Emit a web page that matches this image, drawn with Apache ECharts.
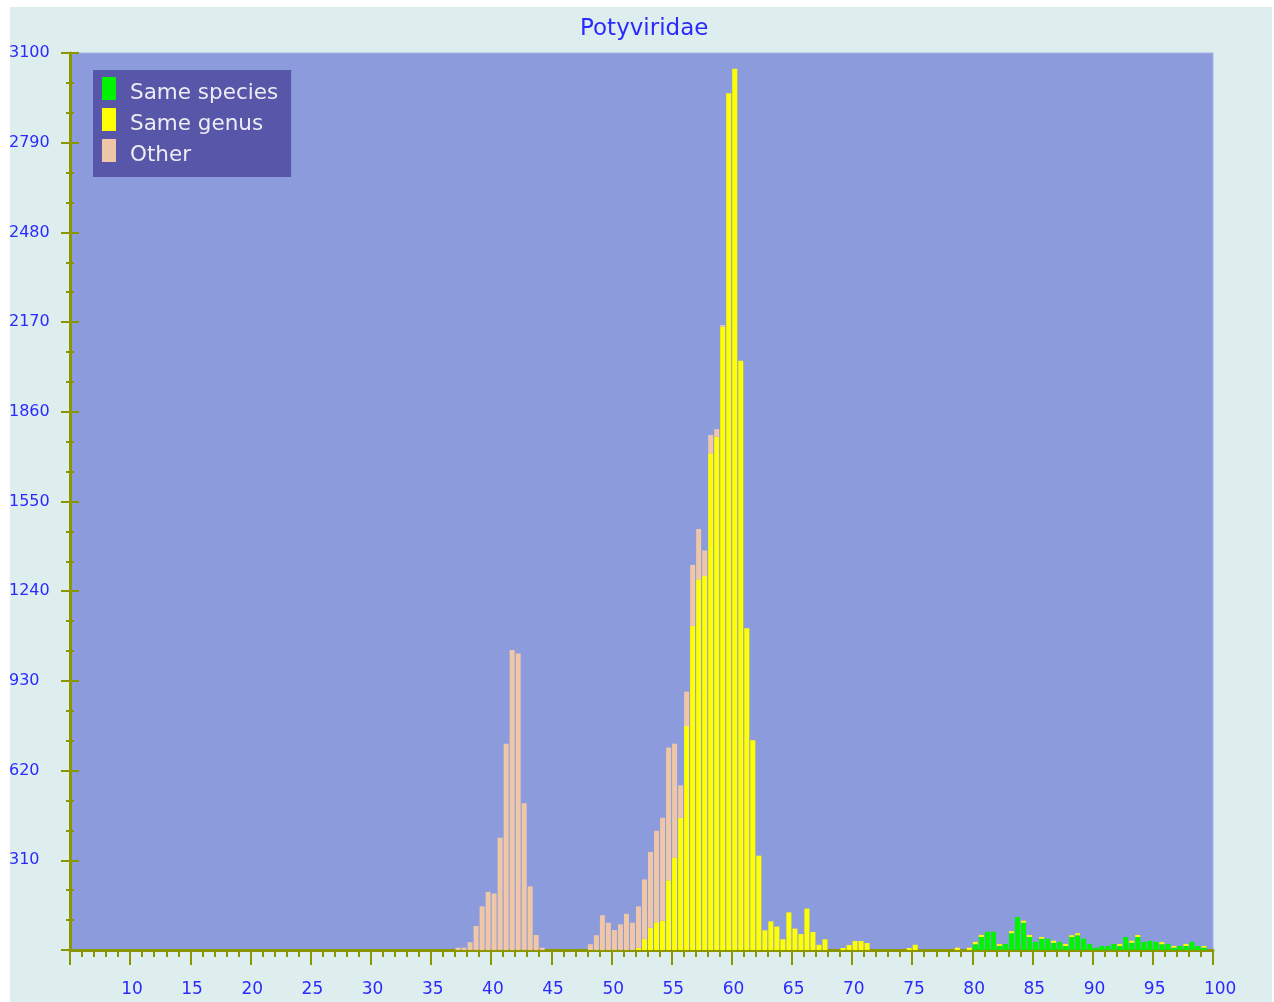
<!DOCTYPE html>
<html><head><meta charset="utf-8">
<script src="https://cdn.jsdelivr.net/npm/echarts@6/dist/echarts.min.js"></script>
<style>html,body{margin:0;padding:0;background:#ffffff;} #c{position:absolute;left:10px;top:7px;width:1262px;height:995px;}</style>
</head><body><div id="c"></div><script>
var titleText = 'Potyviridae';
var seriesNames = ['Same species', 'Same genus', 'Other'];
var xTickLabels = [10,15,20,25,30,35,40,45,50,55,60,65,70,75,80,85,90,95,100];
var yTickLabels = [0,310,620,930,1240,1550,1860,2170,2480,2790,3100];

// bin centres (% identity, 0.5-wide bins)
var bins = [
 37.25,37.75,38.25,38.75,39.25,39.75,40.25,40.75,41.25,41.75,
 42.25,42.75,43.25,43.75,44.25,44.75,45.25,45.75,46.25,46.75,
 47.25,47.75,48.25,48.75,49.25,49.75,50.25,50.75,51.25,51.75,
 52.25,52.75,53.25,53.75,54.25,54.75,55.25,55.75,56.25,56.75,
 57.25,57.75,58.25,58.75,59.25,59.75,60.25,60.75,61.25,61.75,
 62.25,62.75,63.25,63.75,64.25,64.75,65.25,65.75,66.25,66.75,
 67.25,67.75,68.25,68.75,69.25,69.75,70.25,70.75,71.25,71.75,
 72.25,72.75,73.25,73.75,74.25,74.75,75.25,75.75,76.25,76.75,
 77.25,77.75,78.25,78.75,79.25,79.75,80.25,80.75,81.25,81.75,
 82.25,82.75,83.25,83.75,84.25,84.75,85.25,85.75,86.25,86.75,
 87.25,87.75,88.25,88.75,89.25,89.75,90.25,90.75,91.25,91.75,
 92.25,92.75,93.25,93.75,94.25,94.75,95.25,95.75,96.25,96.75,
 97.25,97.75,98.25,98.75,99.25,99.75
];
var sameSpecies = [
 0,0,0,0,0,0,0,0,0,0,
 0,0,0,0,0,0,0,0,0,0,
 0,0,0,0,0,0,0,0,0,0,
 0,0,0,0,0,0,0,0,0,0,
 0,0,0,0,0,0,0,0,0,0,
 0,0,0,0,0,0,0,0,0,0,
 0,0,0,0,0,0,0,0,0,0,
 0,0,0,0,0,0,0,0,0,0,
 0,0,0,0,0,0,20,45,63,63,
 14,21,58,114,94,45,28,39,39,25,
 28,14,45,51,39,21,8,14,14,21,
 14,45,25,45,28,32,28,20,21,8,
 14,14,28,14,8,0
];
var sameGenus = [
 0,0,0,0,0,0,0,0,0,0,
 0,0,0,0,0,0,0,0,0,0,
 0,0,0,0,0,0,0,0,0,0,
 8,39,77,96,101,241,320,457,774,1120,
 1281,1293,1717,1774,2154,2961,3046,2036,1112,725,
 326,68,99,81,37,130,74,55,143,62,
 18,37,0,0,7,17,31,31,24,0,
 0,0,0,0,0,7,18,0,0,0,
 0,0,0,8,0,8,8,7,0,0,
 7,0,7,0,7,7,0,6,0,7,
 0,7,6,7,0,0,0,0,0,0,
 7,0,7,7,0,0,0,7,0,6,
 0,7,0,0,6,0
];
var other = [
 8,8,27,83,151,201,195,388,713,1037,
 1025,507,220,52,8,0,0,0,0,0,
 0,0,20,51,120,94,69,89,125,94,
 143,205,262,316,356,459,393,112,119,211,
 174,88,63,26,6,0,0,0,0,0,
 0,0,0,0,0,0,0,0,0,0,
 0,0,0,0,0,0,0,0,0,0,
 0,0,0,0,0,0,0,0,0,0,
 0,0,0,0,0,0,0,0,0,0,
 0,0,0,0,0,0,0,0,0,0,
 0,0,0,0,0,0,0,0,0,0,
 0,0,0,0,0,0,0,0,0,0,
 0,0,0,0,0,0
];

var OLIVE = '#8c9600';
var BLUE = '#2a2aff';
var FONT = 'DejaVu Sans';
var xMin = 5, xMax = 100, yMax = 3100, yStep = 310;
var labelShift = 9 / 12; // labels start a little left of their ticks

function mk(name, vals, color) {
  return {
    name: name, type: 'bar', stack: 'total', xAxisIndex: 0, yAxisIndex: 0,
    barWidth: 5, silent: true,
    dimensions: ['count', 'pid'],
    encode: { x: 'pid', y: 'count' },
    itemStyle: { color: color },
    data: bins.map(function (b, i) { return [vals[i], b]; })
  };
}

var chart = echarts.init(document.getElementById('c'));
chart.setOption({
  animation: false,
  backgroundColor: '#deeeee',
  title: {
    text: titleText, left: 565, top: 6,
    textStyle: { color: BLUE, fontFamily: FONT, fontSize: 23, fontWeight: 'normal' }
  },
  legend: {
    orient: 'vertical', left: 83, top: 63,
    padding: [7, 13, 11, 9],
    backgroundColor: '#5856a8', borderWidth: 0,
    itemWidth: 14, itemHeight: 23, itemGap: 4,
    icon: 'rect',
    selectedMode: false,
    formatter: '{t|{name}}',
    textStyle: {
      color: '#ececf4', fontFamily: FONT, fontSize: 21.5, padding: [0, 0, 0, 9],
      rich: { t: { color: '#ececf4', fontFamily: FONT, fontSize: 21.5, padding: [9, 0, 0, 0] } }
    },
    data: seriesNames
  },
  grid: {
    left: 60, top: 46, width: 1143, height: 897,
    containLabel: false, outerBoundsMode: 'none',
    show: true, backgroundColor: '#8b9bdc', borderColor: '#a4b2e6', borderWidth: 1
  },
  xAxis: [{
    type: 'value', position: 'bottom', min: xMin, max: xMax, interval: 5,
    axisLine: { show: true, onZero: false, lineStyle: { color: OLIVE, width: 3 } },
    axisTick: { show: true, length: 15, lineStyle: { color: OLIVE, width: 2 } },
    minorTick: { show: true, splitNumber: 5, length: 7, lineStyle: { color: OLIVE, width: 2 } },
    axisLabel: { show: false },
    splitLine: { show: false }
  }, {
    type: 'value', position: 'bottom', offset: 0,
    min: xMin + labelShift, max: xMax + labelShift, splitNumber: 19,
    axisLine: { show: false }, axisTick: { show: false }, splitLine: { show: false },
    axisLabel: {
      show: true, align: 'left', margin: 31, color: BLUE, fontFamily: FONT, fontSize: 17,
      showMinLabel: false, showMaxLabel: false,
      formatter: function (v) { var r = Math.round(v); return xTickLabels.indexOf(r) >= 0 && Math.abs(v - r) < 1e-6 ? String(r) : ''; }
    }
  }],
  yAxis: [{
    type: 'value', position: 'left', min: 0, max: yMax, interval: yStep,
    axisLine: { show: true, lineStyle: { color: OLIVE, width: 3 } },
    axisTick: { show: true, length: 9, lineStyle: { color: OLIVE, width: 2 } },
    minorTick: { show: true, splitNumber: 3, length: 4, lineStyle: { color: OLIVE, width: 2 } },
    splitLine: { show: false },
    axisLabel: {
      show: true, align: 'left', margin: 61, color: BLUE, fontFamily: FONT, fontSize: 16,
      showMinLabel: false,
      formatter: function (v) { return yTickLabels.indexOf(v) >= 0 ? String(v) : ''; }
    }
  }, {
    type: 'value', position: 'left', offset: 0, min: 0, max: yMax, interval: yStep,
    axisLine: { show: false },
    axisTick: { show: true, inside: true, length: 9, lineStyle: { color: OLIVE, width: 2 } },
    minorTick: { show: true, splitNumber: 3, length: 4, lineStyle: { color: OLIVE, width: 2 } },
    splitLine: { show: false },
    axisLabel: { show: false }
  }],
  series: [
    mk(seriesNames[0], sameSpecies, '#00f400'),
    mk(seriesNames[1], sameGenus, '#ffff00'),
    mk(seriesNames[2], other, '#efc6a6')
  ]
});
</script></body></html>
